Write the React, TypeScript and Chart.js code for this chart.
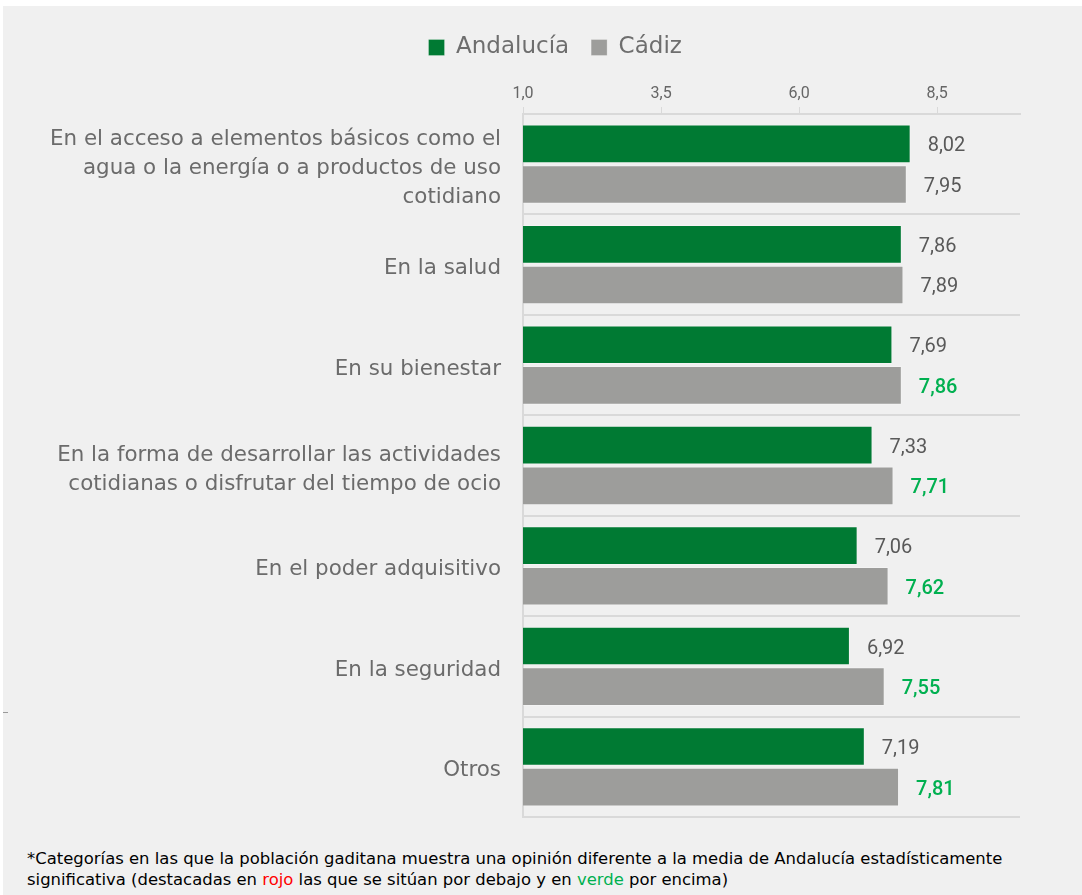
import React, { useEffect, useRef } from "react";
import { Chart, registerables } from "chart.js";

Chart.register(...registerables);

const categories: string[][] = [
  ["En el acceso a elementos básicos como el", "agua o la energía o a productos de uso", "cotidiano"],
  ["En la salud"],
  ["En su bienestar"],
  ["En la forma de desarrollar las actividades", "cotidianas o disfrutar del tiempo de ocio"],
  ["En el poder adquisitivo"],
  ["En la seguridad"],
  ["Otros"],
];
const andalucia = [8.02, 7.86, 7.69, 7.33, 7.06, 6.92, 7.19];
const cadiz = [7.95, 7.89, 7.86, 7.71, 7.62, 7.55, 7.81];
const cadizSignificant = [false, false, true, true, true, true, true];
const xTicks = [1, 3.5, 6, 8.5];
const seriesNames = ["Andalucía", "Cádiz"];

const GREEN = "#007a33";
const GREY = "#9d9d9b";
const FONT = "Roboto";
const WIDE = "'DejaVu Sans'";

const fmt = (v: number, d: number) => v.toFixed(d).replace(".", ",");

const valueLabels = {
  id: "valueLabels",
  afterDatasetsDraw(chart: any) {
    const ctx = chart.ctx;
    ctx.save();
    ctx.textBaseline = "middle";
    ctx.textAlign = "left";
    chart.data.datasets.forEach((ds: any, di: number) => {
      const meta = chart.getDatasetMeta(di);
      meta.data.forEach((bar: any, i: number) => {
        const v = ds.data[i] as number;
        const sig = di === 1 && cadizSignificant[i];
        ctx.fillStyle = sig ? "#00b050" : "#595959";
        ctx.font = (sig ? "500 " : "400 ") + "20px " + FONT;
        ctx.fillText(fmt(v, 2), bar.x + 17, bar.y + 2.5);
      });
    });
    ctx.restore();
  },
};

// shift the legend slightly toward the plot area's centre
const legendShift = {
  id: "legendShift",
  afterLayout(chart: any) {
    const lg = chart.legend;
    if (!lg) return;
    const ca = chart.chartArea;
    const plotCenter = (ca.left + ca.right) / 2;
    const cur = (lg.left + lg.right) / 2;
    const dx = (plotCenter - cur) * 0.168;
    lg.left += dx;
    lg.right += dx;
  },
};

export default function App() {
  const ref = useRef<HTMLCanvasElement | null>(null);

  useEffect(() => {
    if (!ref.current) return;
    const chart = new Chart(ref.current, {
      type: "bar",
      data: {
        labels: categories,
        datasets: [
          {
            label: seriesNames[0],
            data: andalucia,
            backgroundColor: GREEN,
            borderColor: "rgba(255,255,255,0.25)",
            borderWidth: 1,
            categoryPercentage: 0.81,
            barPercentage: 0.95,
          },
          {
            label: seriesNames[1],
            data: cadiz,
            backgroundColor: GREY,
            borderColor: "rgba(255,255,255,0.25)",
            borderWidth: 1,
            categoryPercentage: 0.81,
            barPercentage: 0.95,
          },
        ],
      },
      options: {
        indexAxis: "y",
        animation: false,
        responsive: false,
        maintainAspectRatio: false,
        layout: { padding: { top: 8, left: 0, right: 62, bottom: 19 } },
        plugins: {
          tooltip: { enabled: false },
          legend: {
            position: "top",
            labels: {
              boxWidth: 16,
              boxHeight: 16,
              padding: 22,
              color: "#6e6e6e",
              font: { family: WIDE, size: 23 },
            },
          },
        },
        scales: {
          x: {
            position: "top",
            min: 1,
            max: 10,
            afterBuildTicks: (scale: any) => {
              scale.ticks = xTicks.map((v) => ({ value: v }));
            },
            afterFit: (scale: any) => {
              scale.height = 45;
            },
            grid: {
              drawOnChartArea: false,
              drawTicks: true,
              tickLength: 7,
              color: "#d9d9d9",
              lineWidth: 1,
            },
            border: { display: true, color: "#d9d9d9", width: 2 },
            ticks: {
              padding: 3,
              color: "#666666",
              font: { family: FONT, size: 16 },
              callback: (v: any) => fmt(Number(v), 1),
            },
          },
          y: {
            afterFit: (scale: any) => {
              scale.width = 520;
              scale.paddingTop = 0;
              scale.paddingBottom = 0;
            },
            grid: {
              offset: true,
              drawTicks: false,
              color: "#d9d9d9",
              lineWidth: 2,
            },
            border: { display: true, color: "#d9d9d9", width: 2 },
            ticks: {
              padding: 22,
              labelOffset: 4,
              color: "#6b6b6b",
              font: { family: WIDE, size: 21.4, lineHeight: 1.36 },
            },
          },
        },
      },
      plugins: [valueLabels, legendShift],
    });
    return () => chart.destroy();
  }, []);

  return (
    <div
      style={{
        position: "absolute",
        left: 3,
        top: 6,
        width: 1079,
        height: 889,
        background: "#f0f0f0",
        overflow: "hidden",
      }}
    >
      <canvas ref={ref} width={1079} height={830} style={{ display: "block" }} />
      <div
        style={{
          position: "absolute",
          left: 24,
          top: 842,
          fontFamily: WIDE,
          fontSize: 16.45,
          lineHeight: "21px",
          color: "#000",
          whiteSpace: "nowrap",
        }}
      >
        *Categorías en las que la población gaditana muestra una opinión diferente a la media de Andalucía estadísticamente
        <br />
        significativa (destacadas en <span style={{ color: "#ff0000" }}>rojo</span> las que se sitúan por debajo y en{" "}
        <span style={{ color: "#00b050" }}>verde</span> por encima)
      </div>
      <div style={{ position: "absolute", left: -3, top: 706, width: 8, height: 1, background: "#9a9a9a" }} />
    </div>
  );
}
